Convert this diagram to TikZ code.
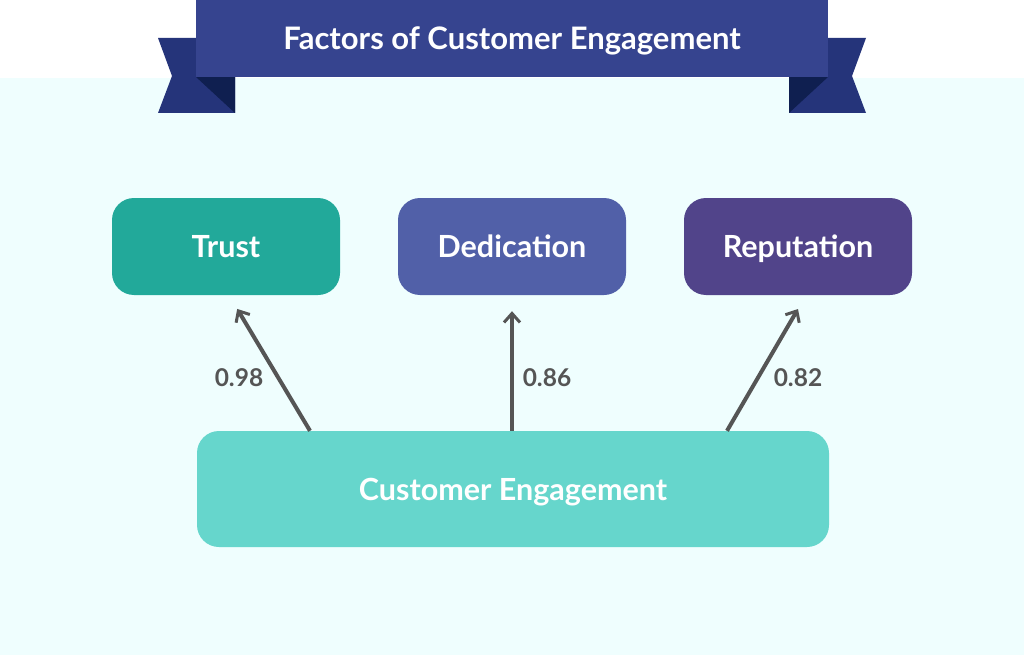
\documentclass[tikz,border=0pt]{standalone}
\usepackage{fontspec}
\setmainfont{Lato}
\usetikzlibrary{arrows.meta}

\definecolor{bgcyan}{HTML}{EFFEFE}
\definecolor{ribbon}{HTML}{36448F}
\definecolor{ribbontail}{HTML}{25347A}
\definecolor{ribbonfold}{HTML}{0F1F50}
\definecolor{trustc}{HTML}{22A99A}
\definecolor{dedic}{HTML}{5160A8}
\definecolor{reput}{HTML}{51448A}
\definecolor{engc}{HTML}{66D6CC}
\definecolor{arrowc}{HTML}{555555}

\begin{document}
\begin{tikzpicture}[x=1pt,y=-1pt,
  factor/.style={rounded corners=22pt,minimum width=228pt,minimum height=97pt,text=white,text height=22pt,text depth=0pt,font=\fontsize{30.5}{32}\selectfont\bfseries},
  link/.style={draw=arrowc,line width=4pt,-{Straight Barb[length=9pt,width=16pt,line width=3pt]},shorten >=16pt},
  weight/.style={text=arrowc,font=\fontsize{24.5}{27}\selectfont\bfseries}]
\useasboundingbox (0,0) rectangle (1024,655);
\fill[white] (0,0) rectangle (1024,78);
\fill[bgcyan] (0,78) rectangle (1024,655);
% ribbon
\fill[ribbontail] (158,38) -- (172,76) -- (158,113) -- (235,113) -- (235,38) -- cycle;
\fill[ribbontail] (866,38) -- (852,76) -- (866,113) -- (789,113) -- (789,38) -- cycle;
\fill[ribbonfold] (196,77) -- (235,77) -- (235,113) -- cycle;
\fill[ribbonfold] (828,77) -- (789,77) -- (789,113) -- cycle;
\node[fill=ribbon,minimum width=632pt,minimum height=77pt,text=white,text height=22.3pt,text depth=0pt,font=\fontsize{31}{33}\selectfont\bfseries] (title) at (512,38.5) {Factors of Customer Engagement};
% factors
\foreach \name/\col/\x/\txt in {trust/trustc/226/Trust,dedication/dedic/512/Dedication,reputation/reput/798/Reputation}
  \node[factor,fill=\col] (\name) at (\x,246.5) {\txt};
\node[factor,fill=engc,minimum width=632pt,minimum height=116pt] (engage) at (513,489) {Customer Engagement};
% loadings
\draw[link] ([xshift=-203pt]engage.north) -- ([xshift=3pt]trust.south);
\draw[link] ([xshift=-1pt]engage.north) -- ([xshift=0pt]dedication.south);
\draw[link] ([xshift=214pt]engage.north) -- ([xshift=8pt]reputation.south);
\node[weight] (w1) at (239,378) {0.98};
\node[weight] (w2) at (547,378) {0.86};
\node[weight] (w3) at (798,378) {0.82};
\end{tikzpicture}
\end{document}
